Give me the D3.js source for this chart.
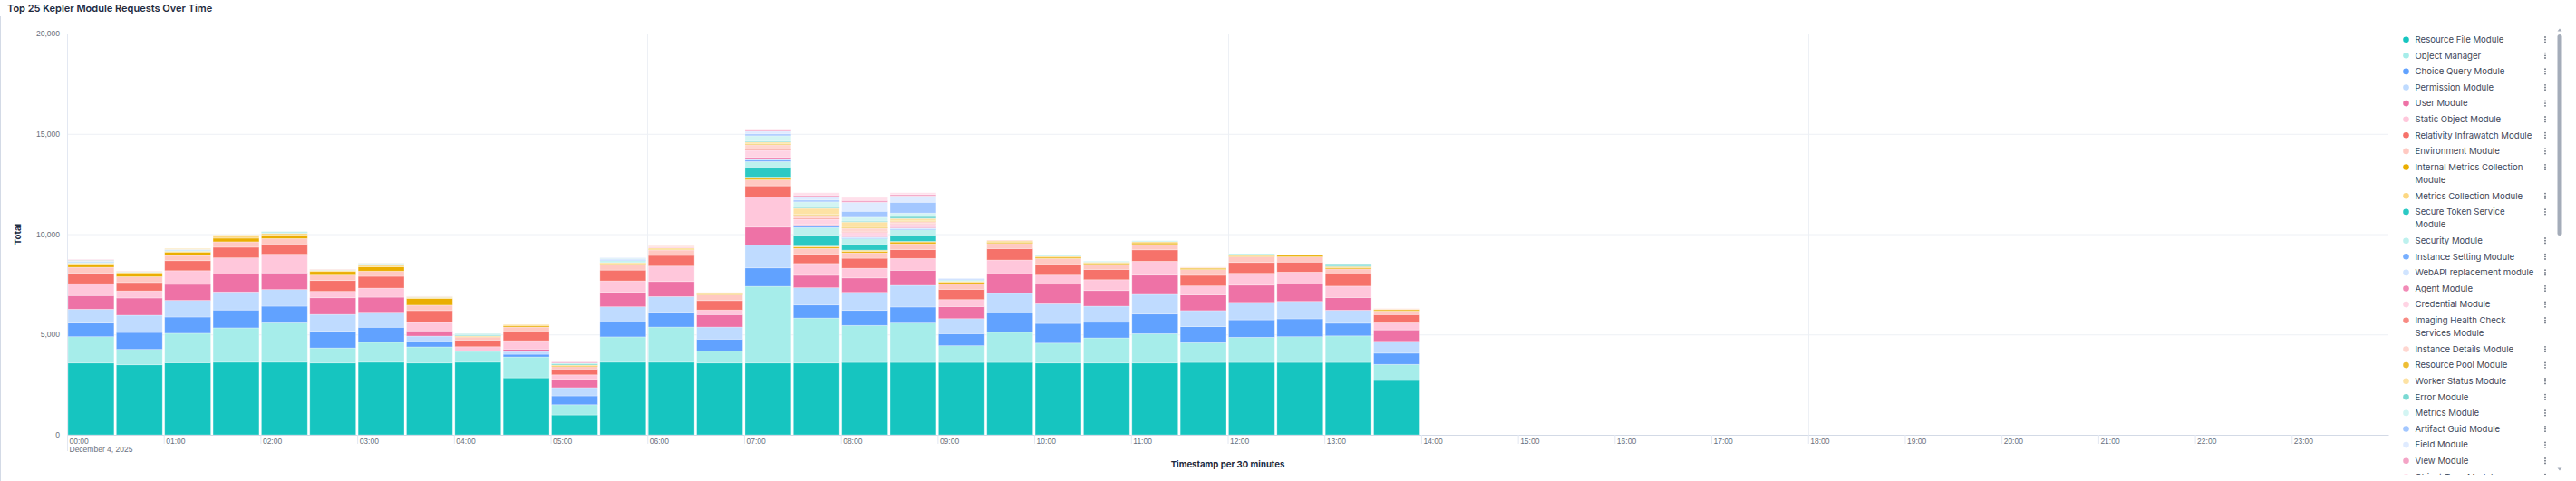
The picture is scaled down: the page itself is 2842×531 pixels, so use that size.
<!DOCTYPE html>
<meta charset="utf-8">
<style>

body {
  margin: 0;
  background: #fff;
  font-family: Inter, "Noto Sans", sans-serif;
}

.grid line {
  stroke: #EDF0F5;
  stroke-width: 1px;
}

.axis text {
  fill: #69707D;
  font-size: 8.5px;
}

.axis-title {
  fill: #1D2A3E;
  font-size: 9.6px;
  font-weight: 700;
}

.legend text {
  fill: #3F4858;
  font-size: 9.6px;
}

</style>
<body>
<script src="https://cdn.jsdelivr.net/npm/d3@7"></script>
<script>

var w = 2842,
    h = 531;

// 30 minute buckets, December 4, 2025
var buckets = ["00:00", "00:30", "01:00", "01:30", "02:00", "02:30", "03:00", "03:30",
  "04:00", "04:30", "05:00", "05:30", "06:00", "06:30", "07:00", "07:30",
  "08:00", "08:30", "09:00", "09:30", "10:00", "10:30", "11:00", "11:30",
  "12:00", "12:30", "13:00", "13:30"];

var modules = ["Resource File Module", "Object Manager", "Choice Query Module", "Permission Module",
  "User Module", "Static Object Module", "Relativity Infrawatch Module", "Environment Module",
  "Internal Metrics Collection Module", "Metrics Collection Module", "Secure Token Service Module",
  "Security Module", "Instance Setting Module", "WebAPI replacement module", "Agent Module",
  "Credential Module", "Imaging Health Check Services Module", "Instance Details Module",
  "Resource Pool Module", "Worker Status Module", "Error Module", "Metrics Module",
  "Artifact Guid Module", "Field Module", "View Module", "Object Type Module"];

var colors = ["#16C5C0", "#A6EDEA", "#61A2FF", "#BFDBFF", "#EE72A6", "#FFC7DB", "#F6726A", "#FFC9C2", "#EAAE01", "#FCD883",
  "#2BC9C4", "#BDF1EE", "#77AFFF", "#D0E4FF", "#F28BB7", "#FFD4E4", "#F88A83", "#FFD6D0", "#EEBE34", "#FDE2A4",
  "#7AD9D3", "#D3F5F3", "#A3C7FF", "#DFEBFF", "#F4A4C6", "#FFE0EB"];

// requests per bucket, one array per module (legend order)
var resourceFile      = [3580, 3490, 3590, 3620, 3620, 3580, 3620, 3580, 3620, 2840, 990, 3620, 3620, 3580, 3580, 3580, 3610, 3610, 3610, 3610, 3580, 3580, 3580, 3610, 3610, 3610, 3610, 2710];
var objectManager     = [1310, 770, 1470, 1710, 1960, 750, 990, 800, 540, 1040, 510, 1260, 1750, 590, 3820, 2240, 1840, 1960, 830, 1500, 990, 1250, 1460, 980, 1250, 1280, 1320, 800];
var choiceQuery       = [680, 840, 810, 890, 830, 830, 750, 270, 0, 135, 440, 750, 750, 600, 920, 650, 750, 800, 600, 960, 980, 780, 980, 800, 870, 890, 630, 560];
var permission        = [690, 860, 830, 900, 830, 840, 750, 270, 0, 135, 410, 750, 770, 600, 1130, 860, 900, 1080, 750, 980, 980, 800, 980, 800, 870, 870, 650, 590];
var user              = [680, 860, 800, 890, 830, 830, 750, 260, 0, 120, 410, 720, 750, 620, 900, 620, 720, 750, 600, 980, 980, 780, 960, 780, 860, 870, 630, 570];
var staticObject      = [590, 350, 680, 810, 930, 320, 450, 420, 230, 420, 230, 570, 770, 230, 1500, 590, 480, 590, 350, 680, 450, 540, 690, 450, 590, 590, 570, 350];
var infrawatch        = [530, 420, 500, 530, 510, 540, 590, 590, 330, 450, 290, 540, 530, 470, 560, 450, 500, 440, 510, 570, 530, 510, 570, 530, 540, 500, 600, 410];
var environment       = [290, 290, 260, 270, 270, 270, 260, 270, 150, 230, 120, 300, 270, 290, 300, 300, 270, 290, 270, 260, 300, 260, 270, 290, 290, 260, 260, 180];
var internalMetrics   = [165, 150, 165, 180, 180, 180, 210, 330, 30, 60, 45, 30, 30, 45, 75, 70, 75, 90, 75, 60, 60, 60, 75, 60, 45, 75, 60, 60];
var metricsCollection = [45, 75, 45, 150, 80, 60, 80, 60, 30, 60, 45, 45, 60, 30, 60, 45, 60, 30, 60, 60, 45, 45, 60, 30, 45, 0, 60, 30];
var secureToken       = [0, 0, 0, 0, 0, 0, 30, 0, 30, 0, 45, 0, 0, 0, 500, 550, 300, 320, 0, 0, 0, 0, 0, 0, 0, 0, 45, 0];
var security          = [45, 30, 45, 0, 45, 30, 45, 30, 45, 0, 45, 90, 0, 20, 270, 370, 270, 260, 60, 0, 45, 45, 45, 0, 60, 0, 45, 0];
var instanceSetting   = [30, 0, 15, 0, 0, 0, 0, 0, 0, 0, 0, 30, 0, 0, 90, 80, 45, 45, 0, 0, 0, 0, 0, 0, 0, 0, 0, 0];
var webApi            = [30, 0, 30, 0, 0, 0, 30, 0, 0, 0, 0, 60, 0, 0, 45, 45, 45, 45, 0, 0, 0, 0, 0, 0, 0, 0, 0, 0];
var agent             = [0, 0, 0, 0, 0, 0, 0, 0, 0, 0, 45, 0, 0, 0, 90, 45, 60, 60, 0, 0, 0, 0, 0, 0, 0, 0, 0, 0];
var credential        = [0, 0, 0, 0, 0, 0, 0, 0, 0, 0, 0, 0, 60, 0, 340, 250, 170, 135, 0, 0, 0, 0, 0, 0, 0, 0, 0, 0];
var imaging           = [0, 0, 0, 0, 0, 0, 0, 0, 0, 0, 0, 0, 0, 0, 45, 45, 45, 30, 0, 0, 0, 0, 0, 0, 0, 0, 0, 0];
var instanceDetails   = [0, 30, 0, 0, 0, 30, 0, 30, 0, 0, 0, 0, 60, 20, 230, 150, 150, 100, 0, 45, 0, 0, 0, 30, 0, 0, 0, 30];
var resourcePool      = [0, 0, 0, 0, 0, 0, 0, 0, 0, 0, 0, 0, 0, 0, 45, 45, 45, 45, 0, 0, 0, 0, 0, 0, 0, 0, 0, 0];
var workerStatus      = [20, 0, 45, 20, 0, 0, 10, 0, 0, 0, 0, 0, 0, 0, 90, 300, 270, 100, 0, 0, 0, 0, 0, 0, 0, 0, 0, 0];
var errorModule       = [20, 0, 0, 0, 35, 0, 0, 0, 25, 0, 0, 20, 0, 0, 45, 45, 45, 100, 0, 0, 0, 0, 0, 0, 0, 0, 45, 0];
var metricsModule     = [0, 0, 0, 0, 0, 0, 0, 0, 0, 0, 0, 0, 0, 0, 270, 280, 190, 170, 0, 0, 0, 0, 0, 0, 0, 0, 0, 0];
var artifactGuid      = [0, 0, 0, 0, 0, 0, 0, 0, 0, 0, 0, 0, 0, 0, 90, 90, 300, 540, 45, 0, 0, 0, 0, 0, 0, 0, 0, 0];
var field             = [0, 0, 0, 0, 0, 0, 0, 0, 0, 0, 0, 45, 0, 0, 135, 170, 450, 310, 45, 0, 0, 0, 0, 0, 0, 0, 0, 0];
var view              = [20, 0, 0, 0, 0, 0, 0, 0, 0, 0, 0, 0, 0, 0, 90, 75, 90, 75, 0, 0, 0, 0, 0, 0, 0, 0, 0, 0];
var objectType        = [0, 0, 0, 0, 0, 0, 0, 0, 0, 0, 0, 0, 0, 0, 30, 120, 150, 90, 0, 0, 0, 0, 0, 0, 0, 0, 0, 0];

var series = [resourceFile, objectManager, choiceQuery, permission, user, staticObject, infrawatch,
  environment, internalMetrics, metricsCollection, secureToken, security, instanceSetting, webApi,
  agent, credential, imaging, instanceDetails, resourcePool, workerStatus, errorModule, metricsModule,
  artifactGuid, field, view, objectType];

var yTicks = [0, 5000, 10000, 15000, 20000];

var parse = d3.timeParse("%Y-%m-%d %H:%M"),
    day = "2025-12-04";

var rows = buckets.map(function(b, i) {
  var r = {time: parse(day + " " + b)};
  modules.forEach(function(m, j) { r[m] = series[j][i]; });
  return r;
});

var start = parse(day + " 00:00"),
    end = d3.timeDay.offset(start, 1);

var x = d3.scaleTime().domain([start, end]).range([74, 2635]),
    y = d3.scaleLinear().domain([0, 20000]).range([480, 37]),
    color = d3.scaleOrdinal().domain(modules).range(colors);

var svg = d3.select("body").append("svg")
    .attr("width", w)
    .attr("height", h);

// panel edge
svg.append("line")
    .attr("x1", 0.5).attr("x2", 0.5)
    .attr("y1", 18).attr("y2", h)
    .attr("stroke", "#D3DAE6");

svg.append("text")
    .attr("x", 8)
    .attr("y", 13)
    .attr("fill", "#1D2A3E")
    .style("font-size", "11px")
    .style("font-weight", 600)
    .text("Top 25 Kepler Module Requests Over Time");

// gridlines
var grid = svg.append("g").attr("class", "grid");

grid.selectAll(".h")
    .data(yTicks.slice(1))
  .enter().append("line")
    .attr("class", "h")
    .attr("x1", x.range()[0]).attr("x2", x.range()[1])
    .attr("y1", function(d) { return y(d) + 0.5; })
    .attr("y2", function(d) { return y(d) + 0.5; });

grid.selectAll(".v")
    .data(d3.timeHour.every(6).range(start, end))
  .enter().append("line")
    .attr("class", "v")
    .attr("x1", function(d) { return Math.round(x(d)) + 0.5; })
    .attr("x2", function(d) { return Math.round(x(d)) + 0.5; })
    .attr("y1", y(20000)).attr("y2", y(0));

// stacked bars
var stack = d3.stack().keys(modules)(rows);

var layer = svg.append("g").selectAll("g")
    .data(stack)
  .enter().append("g")
    .attr("fill", function(d) { return color(d.key); });

layer.selectAll("rect")
    .data(function(d) { return d.filter(function(s) { return s[1] > s[0]; }); })
  .enter().append("rect")
    .attr("x", function(d) { return x(d.data.time) + 1; })
    .attr("width", function(d) { return x(d3.timeMinute.offset(d.data.time, 30)) - x(d.data.time) - 2.5; })
    .attr("y", function(d) { return y(d[1]); })
    .attr("height", function(d) { return y(d[0]) - y(d[1]); })
    .attr("stroke", "#fff")
    .attr("stroke-opacity", 0.35)
    .attr("stroke-width", 0.8);

// axes
var yAxis = svg.append("g")
    .attr("class", "axis")
    .attr("transform", "translate(" + x.range()[0] + ",0)")
    .call(d3.axisLeft(y).tickValues(yTicks).tickFormat(d3.format(",")).tickSize(0).tickPadding(8));
yAxis.select(".domain").attr("stroke", "#E3E8F2");

var xAxis = svg.append("g")
    .attr("class", "axis")
    .attr("transform", "translate(0," + y(0) + ")")
    .call(d3.axisBottom(x)
      .tickValues(d3.timeHour.every(1).range(start, end))
      .tickFormat(d3.timeFormat("%H:%M"))
      .tickSize(10)
      .tickSizeOuter(0));
xAxis.select(".domain").attr("stroke", "#D3DAE6");
xAxis.selectAll(".tick line").attr("stroke", "#E3E8F2");
xAxis.selectAll(".tick text")
    .attr("text-anchor", "start")
    .attr("x", 2)
    .attr("y", 4)
    .attr("dy", "0.71em");
xAxis.select(".tick line").attr("y2", 18);
xAxis.select(".tick")
  .append("text")
    .attr("x", 2)
    .attr("y", 13)
    .attr("dy", "0.71em")
    .attr("text-anchor", "start")
    .text(d3.timeFormat("%B %-d, %Y")(start));

svg.append("text")
    .attr("class", "axis-title")
    .attr("x", (x.range()[0] + x.range()[1]) / 2)
    .attr("y", 516)
    .attr("text-anchor", "middle")
    .text("Timestamp per 30 minutes");

svg.append("text")
    .attr("class", "axis-title")
    .attr("transform", "translate(23," + (y(0) + y(20000)) / 2 + ")rotate(-90)")
    .attr("text-anchor", "middle")
    .text("Total");

// legend
svg.append("clipPath")
    .attr("id", "legend-clip")
  .append("rect")
    .attr("x", 2640).attr("y", 22)
    .attr("width", 180).attr("height", 502);

var legend = svg.append("g")
    .attr("class", "legend")
    .attr("clip-path", "url(#legend-clip)");

var ly = 43.7;
modules.forEach(function(m) {
  var g = legend.append("g").attr("transform", "translate(0," + ly + ")");
  g.append("circle")
      .attr("cx", 2654.5)
      .attr("r", 3.3)
      .attr("fill", color(m));
  var t = g.append("text")
      .attr("x", 2664.5)
      .attr("dy", "0.35em");
  var words = m.split(" "),
      line = [],
      lines = 0,
      span = t.append("tspan").attr("x", 2664.5);
  words.forEach(function(word) {
    line.push(word);
    span.text(line.join(" "));
    if (span.node().getComputedTextLength() > 131 && line.length > 1) {
      line.pop();
      span.text(line.join(" "));
      line = [word];
      lines++;
      span = t.append("tspan").attr("x", 2664.5).attr("dy", 14.2).text(word);
    }
  });
  [-2.7, 0, 2.7].forEach(function(dy) {
    g.append("circle")
        .attr("cx", 2808)
        .attr("cy", dy)
        .attr("r", 0.9)
        .attr("fill", "#69707D");
  });
  ly += 17.6 + lines * 14.2;
});

// scrollbar
svg.append("rect")
    .attr("x", 2821.5).attr("y", 38)
    .attr("width", 5).attr("height", 222)
    .attr("rx", 2.5)
    .attr("fill", "#A4ACB9");

svg.append("path")
    .attr("d", "M2821.5,34.5L2824,31.5L2826.5,34.5Z")
    .attr("fill", "#A4ACB9");

svg.append("path")
    .attr("d", "M2821.5,516.5L2824,519.5L2826.5,516.5Z")
    .attr("fill", "#A4ACB9");

</script>
</body>
